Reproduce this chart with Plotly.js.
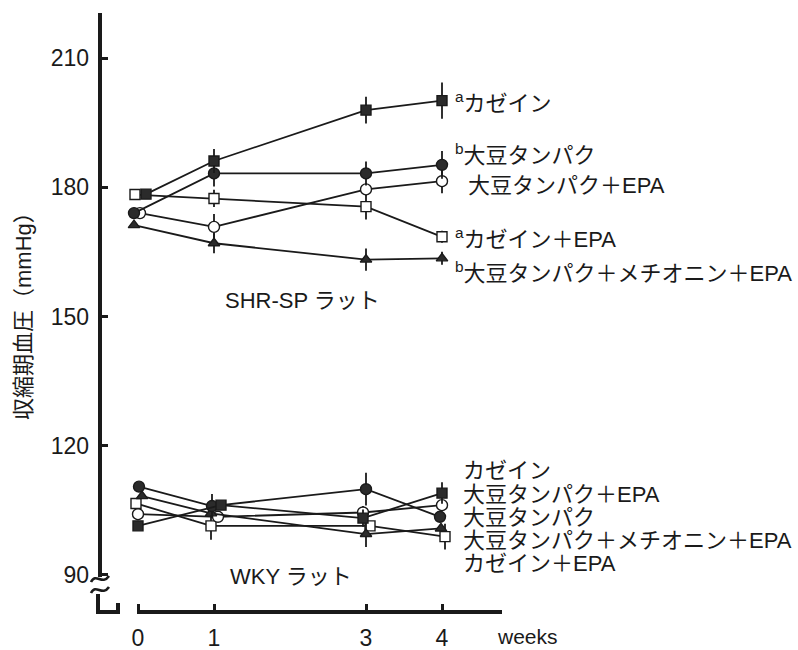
<!DOCTYPE html>
<html>
<head>
<meta charset="utf-8">
<script src="https://cdn.plot.ly/plotly-3.0.1.min.js"></script>
<style>
  html, body { margin: 0; padding: 0; background: #ffffff; }
  #chart { width: 798px; height: 650px; }
</style>
</head>
<body>
<div id="chart"></div>
<script>
// ---- data: systolic blood pressure (mmHg) by week ----
const weeks = [0, 1, 3, 4];
const weekTickText = ['0', '1', '3', '4'];
const yTickVals = [90, 120, 150, 180, 210];

// SHR-SP rats
const shrCasein       = [178.4, 186.1, 197.9, 200.1];
const shrSoy          = [174.0, 183.2, 183.2, 185.2];
const shrSoyEpa       = [174.0, 170.8, 179.5, 181.4];
const shrCaseinEpa    = [178.3, 177.4, 175.5, 168.5];
const shrSoyMetEpa    = [171.2, 167.0, 163.2, 163.5];
const shrCaseinErr    = [0, 2.8, 3.1, 4.2];
const shrSoyErr       = [0, 3.0, 2.8, 3.2];
const shrSoyEpaErr    = [0, 3.0, 1.5, 2.8];
const shrCaseinEpaErr = [0, 2.0, 3.0, 1.4];
const shrSoyMetEpaErr = [0, 2.3, 2.6, 1.5];

// WKY rats
const wkyCasein       = [101.4, 106.2, 103.2, 109.0];
const wkySoy          = [110.5, 106.0, 109.9, 103.5];
const wkySoyEpa       = [104.1, 103.5, 104.5, 106.2];
const wkyCaseinEpa    = [106.6, 101.4, 101.4, 98.9];
const wkySoyMetEpa    = [108.3, 104.3, 99.5, 100.8];
const wkyCaseinErr    = [0, 0, 2.0, 2.5];
const wkySoyErr       = [0, 2.8, 3.8, 0];
const wkySoyEpaErr    = [0, 0, 1.5, 0];
const wkyCaseinEpaErr = [0, 3.2, 0, 3.0];
const wkySoyMetEpaErr = [0, 0, 3.0, 0];

// group labels drawn at the right end of each line set
const shrLabels = ['<sup>a</sup>カゼイン', '<sup>b</sup>大豆タンパク', '大豆タンパク＋EPA',
                   '<sup>a</sup>カゼイン＋EPA', '<sup>b</sup>大豆タンパク＋メチオニン＋EPA'];
const wkyLabels = ['カゼイン', '大豆タンパク＋EPA', '大豆タンパク',
                   '大豆タンパク＋メチオニン＋EPA', 'カゼイン＋EPA'];
const yTitle = '収縮期血圧（mmHg）';
const shrGroupName = 'SHR-SP ラット';
const wkyGroupName = 'WKY ラット';
const xUnit = 'weeks';

// ---- layout geometry (pixels) ----
const W = 798, H = 650;
const PL = 100, PR = 500, PT = 13, PB = 612;
const PX_PER_WEEK = 76;
const xMin = -0.5, xMax = xMin + (PR - PL) / PX_PER_WEEK;
const yMin = 81.4, yMax = 220.45;

const px = x => (x - PL) / (PR - PL);            // pixel -> paper x
const py = y => (PB - y) / (PB - PT);            // pixel -> paper y
const pt = (x, y) => px(x).toFixed(4) + ',' + py(y).toFixed(4);

// small horizontal marker shifts (px) so coincident symbols stay visible
const shift = {
  shrCasein: [8, 0, 0, 0], shrSoy: [-4, 0, 0, 0], shrSoyEpa: [2, 0, 0, 0],
  shrCaseinEpa: [-3, 0, 0, 0], shrSoyMetEpa: [-4, 0, 0, 0],
  wkyCasein: [0, 7, -3, 0], wkySoy: [1, -2, 0, -2], wkySoyEpa: [0, 4, -3, 0],
  wkyCaseinEpa: [-2, -3, 4, 3], wkySoyMetEpa: [4, -3, 0, -1]
};

const INK = '#1a1a1a';
const FONT_TXT = 'Liberation Sans, Noto Sans CJK JP, sans-serif';
const FONT_NUM = 'Liberation Sans Narrow, Arial Narrow, Liberation Sans, sans-serif';

const styles = {
  casein:    { symbol: 'square',       size: 10, fill: '#2b2b2b' },
  soy:       { symbol: 'circle',       size: 11, fill: '#2b2b2b' },
  soyEpa:    { symbol: 'circle',       size: 11, fill: '#ffffff' },
  caseinEpa: { symbol: 'square',       size: 10, fill: '#ffffff' },
  soyMetEpa: { symbol: 'triangle-up',  size: 10, fill: '#2b2b2b' }
};

function series(values, errs, st, sh) {
  return {
    type: 'scatter', mode: 'lines+markers',
    x: weeks.map((w, i) => w + sh[i] / PX_PER_WEEK),
    y: values,
    line: { color: INK, width: 1.8 },
    marker: { symbol: st.symbol, size: st.size, color: st.fill,
              line: { color: INK, width: 1.4 } },
    error_y: { type: 'data', array: errs, visible: true, symmetric: true,
               color: INK, thickness: 1.8, width: 0 },
    showlegend: false, hoverinfo: 'x+y'
  };
}

const traces = [
  series(shrCaseinEpa, shrCaseinEpaErr, styles.caseinEpa, shift.shrCaseinEpa),
  series(shrSoyEpa,    shrSoyEpaErr,    styles.soyEpa,    shift.shrSoyEpa),
  series(shrSoyMetEpa, shrSoyMetEpaErr, styles.soyMetEpa, shift.shrSoyMetEpa),
  series(shrSoy,       shrSoyErr,       styles.soy,       shift.shrSoy),
  series(shrCasein,    shrCaseinErr,    styles.casein,    shift.shrCasein),
  series(wkyCaseinEpa, wkyCaseinEpaErr, styles.caseinEpa, shift.wkyCaseinEpa),
  series(wkySoyEpa,    wkySoyEpaErr,    styles.soyEpa,    shift.wkySoyEpa),
  series(wkySoyMetEpa, wkySoyMetEpaErr, styles.soyMetEpa, shift.wkySoyMetEpa),
  series(wkySoy,       wkySoyErr,       styles.soy,       shift.wkySoy),
  series(wkyCasein,    wkyCaseinErr,    styles.casein,    shift.wkyCasein)
];

// axis lines, the broken-axis marks and the corner bracket
const axisLine = { color: INK, width: 4 };
const thinLine = { color: INK, width: 2.6 };
const shapes = [
  { type: 'line', xref: 'paper', yref: 'paper', x0: px(100), x1: px(100), y0: py(13), y1: py(577), line: axisLine },
  { type: 'path', xref: 'paper', yref: 'paper', line: thinLine,
    path: 'M' + pt(91, 582) + ' C' + pt(96, 572) + ' ' + pt(102, 586) + ' ' + pt(109, 576) },
  { type: 'path', xref: 'paper', yref: 'paper', line: thinLine,
    path: 'M' + pt(91, 593) + ' C' + pt(96, 583) + ' ' + pt(102, 597) + ' ' + pt(109, 587) },
  { type: 'path', xref: 'paper', yref: 'paper', line: axisLine,
    path: 'M' + pt(98, 594) + ' L' + pt(98, 612) + ' L' + pt(118, 612) + ' L' + pt(118, 603) },
  { type: 'line', xref: 'paper', yref: 'paper', x0: px(137), x1: px(502), y0: py(612), y1: py(612), line: axisLine }
];

const annotations = [];
const shrLabelY = [102, 154, 186, 238, 272];
const shrLabelX = [453, 453, 466, 453, 453];
shrLabels.forEach((t, i) => annotations.push({
  xref: 'paper', yref: 'paper', x: px(shrLabelX[i]), y: py(shrLabelY[i]),
  xanchor: 'left', yanchor: 'middle', text: t, showarrow: false,
  font: { family: FONT_TXT, size: 22, color: INK }
}));
const wkyLabelY = [470, 494, 517, 540, 563];
wkyLabels.forEach((t, i) => annotations.push({
  xref: 'paper', yref: 'paper', x: px(461), y: py(wkyLabelY[i]),
  xanchor: 'left', yanchor: 'middle', text: t, showarrow: false,
  font: { family: FONT_TXT, size: 22, color: INK }
}));
annotations.push(
  { xref: 'paper', yref: 'paper', x: px(302), y: py(300), xanchor: 'center', yanchor: 'middle',
    text: shrGroupName, showarrow: false, font: { family: FONT_TXT, size: 22, color: INK } },
  { xref: 'paper', yref: 'paper', x: px(291), y: py(576), xanchor: 'center', yanchor: 'middle',
    text: wkyGroupName, showarrow: false, font: { family: FONT_TXT, size: 22, color: INK } },
  { xref: 'paper', yref: 'paper', x: px(527), y: py(636), xanchor: 'center', yanchor: 'middle',
    text: xUnit, showarrow: false, font: { family: FONT_TXT, size: 21, color: INK } },
  { xref: 'paper', yref: 'paper', x: px(23), y: py(311), xanchor: 'center', yanchor: 'middle',
    textangle: -90, text: yTitle, showarrow: false, font: { family: FONT_TXT, size: 22, color: INK } }
);

const layout = {
  width: W, height: H,
  margin: { l: PL, r: W - PR, t: PT, b: H - PB, pad: 0 },
  paper_bgcolor: '#ffffff', plot_bgcolor: '#ffffff',
  showlegend: false,
  xaxis: {
    range: [xMin, xMax], tickmode: 'array', tickvals: weeks, ticktext: weekTickText,
    ticks: 'inside', ticklen: 8, tickwidth: 3, tickcolor: INK,
    showline: false, showgrid: false, zeroline: false, ticklabelstandoff: 10,
    tickfont: { family: FONT_NUM, size: 23, color: INK }, fixedrange: true
  },
  yaxis: {
    range: [yMin, yMax], tickmode: 'array', tickvals: yTickVals,
    ticks: 'inside', ticklen: 8, tickwidth: 3, tickcolor: INK,
    showline: false, showgrid: false, zeroline: false, ticklabelstandoff: 10,
    tickfont: { family: FONT_NUM, size: 23, color: INK }, fixedrange: true
  },
  shapes: shapes,
  annotations: annotations
};

Plotly.newPlot('chart', traces, layout, { displayModeBar: false, staticPlot: true });
</script>
</body>
</html>
